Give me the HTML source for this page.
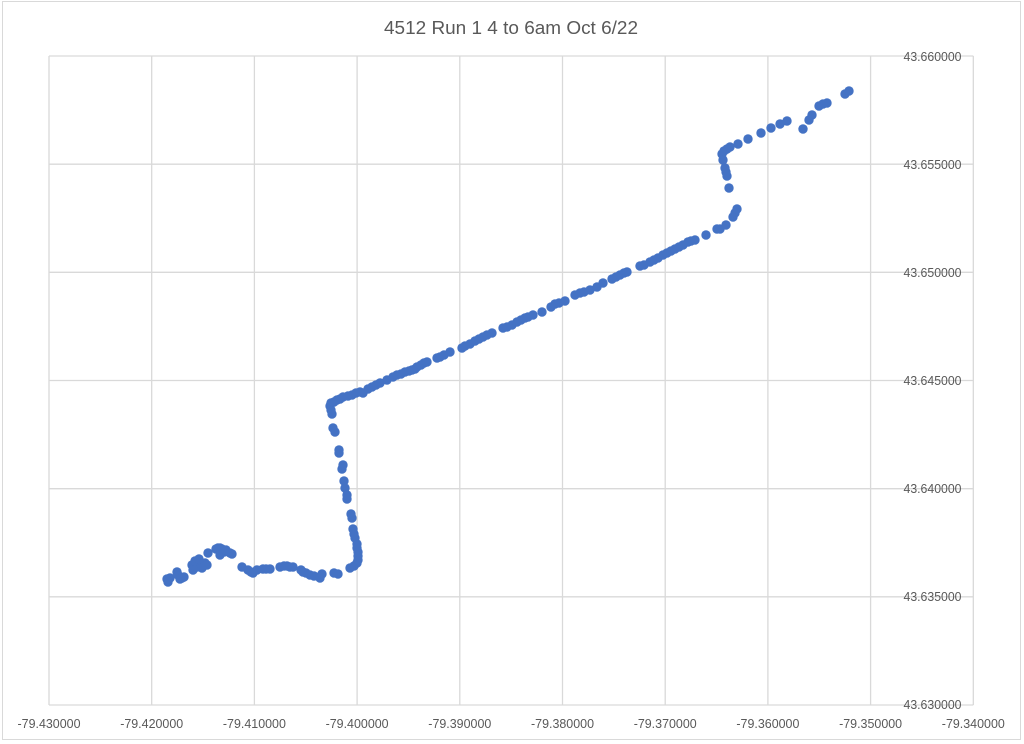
<!DOCTYPE html>
<html><head><meta charset="utf-8"><style>
html,body{margin:0;padding:0;background:#fff;}
svg{display:block;}
text{font-family:"Liberation Sans",sans-serif;fill:#595959;}
</style></head><body>
<svg width="1024" height="744" viewBox="0 0 1024 744" xmlns="http://www.w3.org/2000/svg">
<rect x="0" y="0" width="1024" height="744" fill="#fff"/>
<rect x="2.5" y="1.5" width="1018" height="738" fill="none" stroke="#d9d9d9" stroke-width="1"/>
<text x="511" y="34" font-size="18.5" text-anchor="middle" textLength="254" lengthAdjust="spacingAndGlyphs">4512 Run 1 4 to 6am Oct 6/22</text>
<g stroke="#d9d9d9" stroke-width="1.3" fill="none">
<line x1="49" y1="56" x2="49" y2="705"/>
<line x1="151.7" y1="56" x2="151.7" y2="705"/>
<line x1="254.4" y1="56" x2="254.4" y2="705"/>
<line x1="357.1" y1="56" x2="357.1" y2="705"/>
<line x1="459.8" y1="56" x2="459.8" y2="705"/>
<line x1="562.5" y1="56" x2="562.5" y2="705"/>
<line x1="665.2" y1="56" x2="665.2" y2="705"/>
<line x1="767.9" y1="56" x2="767.9" y2="705"/>
<line x1="870.6" y1="56" x2="870.6" y2="705"/>
<line x1="973.3" y1="56" x2="973.3" y2="705"/>
<line x1="49" y1="56" x2="973.3" y2="56"/>
<line x1="49" y1="164.2" x2="973.3" y2="164.2"/>
<line x1="49" y1="272.3" x2="973.3" y2="272.3"/>
<line x1="49" y1="380.5" x2="973.3" y2="380.5"/>
<line x1="49" y1="488.7" x2="973.3" y2="488.7"/>
<line x1="49" y1="596.8" x2="973.3" y2="596.8"/>
<line x1="49" y1="705" x2="973.3" y2="705"/>
</g>
<g font-size="13" text-anchor="middle">
<text x="49" y="728" textLength="63" lengthAdjust="spacingAndGlyphs">-79.430000</text>
<text x="151.7" y="728" textLength="63" lengthAdjust="spacingAndGlyphs">-79.420000</text>
<text x="254.4" y="728" textLength="63" lengthAdjust="spacingAndGlyphs">-79.410000</text>
<text x="357.1" y="728" textLength="63" lengthAdjust="spacingAndGlyphs">-79.400000</text>
<text x="459.8" y="728" textLength="63" lengthAdjust="spacingAndGlyphs">-79.390000</text>
<text x="562.5" y="728" textLength="63" lengthAdjust="spacingAndGlyphs">-79.380000</text>
<text x="665.2" y="728" textLength="63" lengthAdjust="spacingAndGlyphs">-79.370000</text>
<text x="767.9" y="728" textLength="63" lengthAdjust="spacingAndGlyphs">-79.360000</text>
<text x="870.6" y="728" textLength="63" lengthAdjust="spacingAndGlyphs">-79.350000</text>
<text x="973.3" y="728" textLength="63" lengthAdjust="spacingAndGlyphs">-79.340000</text>
<text x="932.5" y="61" textLength="58" lengthAdjust="spacingAndGlyphs">43.660000</text>
<text x="932.5" y="169" textLength="58" lengthAdjust="spacingAndGlyphs">43.655000</text>
<text x="932.5" y="277" textLength="58" lengthAdjust="spacingAndGlyphs">43.650000</text>
<text x="932.5" y="385" textLength="58" lengthAdjust="spacingAndGlyphs">43.645000</text>
<text x="932.5" y="493" textLength="58" lengthAdjust="spacingAndGlyphs">43.640000</text>
<text x="932.5" y="601" textLength="58" lengthAdjust="spacingAndGlyphs">43.635000</text>
<text x="932.5" y="709" textLength="58" lengthAdjust="spacingAndGlyphs">43.630000</text>
</g>
<g fill="#4472c4">
<!-- left cluster -->
<circle cx="168" cy="582" r="4.7"/><circle cx="170" cy="578" r="4.7"/><circle cx="167" cy="579" r="4.7"/>
<circle cx="177" cy="572" r="4.7"/><circle cx="178" cy="575" r="4.7"/><circle cx="182" cy="578" r="4.7"/><circle cx="184" cy="577" r="4.7"/><circle cx="180" cy="579" r="4.7"/>
<circle cx="192" cy="565" r="4.7"/><circle cx="193" cy="570" r="4.7"/><circle cx="195" cy="566" r="4.7"/><circle cx="197" cy="567" r="4.7"/><circle cx="195" cy="561" r="4.7"/>
<circle cx="200" cy="562" r="4.7"/><circle cx="202" cy="568" r="4.7"/><circle cx="205" cy="563" r="4.7"/><circle cx="207" cy="565" r="4.7"/><circle cx="199" cy="559" r="4.7"/>
<circle cx="208" cy="553" r="4.7"/><circle cx="216" cy="549" r="4.7"/><circle cx="218" cy="548" r="4.7"/><circle cx="220" cy="548" r="4.7"/>
<circle cx="222" cy="549" r="4.7"/><circle cx="220" cy="555" r="4.7"/><circle cx="224" cy="552" r="4.7"/><circle cx="226" cy="550" r="4.7"/>
<circle cx="230" cy="553" r="4.7"/><circle cx="232" cy="554" r="4.7"/>
<circle cx="242" cy="567" r="4.7"/><circle cx="248" cy="570" r="4.7"/><circle cx="251" cy="572" r="4.7"/><circle cx="253" cy="573" r="4.7"/>
<circle cx="257" cy="570" r="4.7"/><circle cx="263" cy="569" r="4.7"/><circle cx="266" cy="569" r="4.7"/><circle cx="270" cy="569" r="4.7"/>
<circle cx="280" cy="567" r="4.7"/><circle cx="284" cy="566" r="4.7"/><circle cx="287" cy="566" r="4.7"/><circle cx="290" cy="567" r="4.7"/><circle cx="293" cy="567" r="4.7"/>
<circle cx="301" cy="570" r="4.7"/><circle cx="303" cy="572" r="4.7"/><circle cx="306" cy="573" r="4.7"/><circle cx="310" cy="575" r="4.7"/>
<circle cx="314" cy="576" r="4.7"/><circle cx="320" cy="578" r="4.7"/><circle cx="322" cy="574" r="4.7"/>
<circle cx="334" cy="573" r="4.7"/><circle cx="338" cy="574" r="4.7"/>
<circle cx="350" cy="568" r="4.7"/><circle cx="354" cy="566" r="4.7"/><circle cx="357" cy="563" r="4.7"/><circle cx="358" cy="560" r="4.7"/>
<circle cx="358" cy="556" r="4.7"/><circle cx="358" cy="552" r="4.7"/><circle cx="357" cy="548" r="4.7"/><circle cx="357" cy="544" r="4.7"/>
<circle cx="355" cy="538" r="4.7"/><circle cx="354" cy="534" r="4.7"/><circle cx="353" cy="529" r="4.7"/><circle cx="352" cy="518" r="4.7"/>
<circle cx="351" cy="514" r="4.7"/><circle cx="347" cy="499" r="4.7"/><circle cx="347" cy="495" r="4.7"/><circle cx="345" cy="488" r="4.7"/>
<circle cx="344" cy="481" r="4.7"/><circle cx="342" cy="469" r="4.7"/><circle cx="343" cy="465" r="4.7"/><circle cx="339" cy="453" r="4.7"/>
<circle cx="339" cy="450" r="4.7"/><circle cx="335" cy="432" r="4.7"/><circle cx="333" cy="428" r="4.7"/><circle cx="332" cy="414" r="4.7"/>
<circle cx="331" cy="410" r="4.7"/><circle cx="330" cy="406" r="4.7"/>
<!-- diagonal -->
<circle cx="331" cy="403" r="4.7"/><circle cx="334" cy="402" r="4.7"/><circle cx="337" cy="400" r="4.7"/><circle cx="340" cy="399" r="4.7"/>
<circle cx="343" cy="397" r="4.7"/><circle cx="348" cy="396" r="4.7"/><circle cx="352" cy="395" r="4.7"/><circle cx="356" cy="393" r="4.7"/>
<circle cx="360" cy="392" r="4.7"/><circle cx="363" cy="393" r="4.7"/><circle cx="368" cy="389" r="4.7"/><circle cx="372" cy="387" r="4.7"/>
<circle cx="376" cy="385" r="4.7"/><circle cx="380" cy="383" r="4.7"/><circle cx="387" cy="380" r="4.7"/><circle cx="393" cy="377" r="4.7"/>
<circle cx="397" cy="375" r="4.7"/><circle cx="401" cy="374" r="4.7"/><circle cx="405" cy="372" r="4.7"/><circle cx="409" cy="371" r="4.7"/>
<circle cx="412" cy="370" r="4.7"/><circle cx="415" cy="369" r="4.7"/><circle cx="417" cy="367" r="4.7"/><circle cx="421" cy="365" r="4.7"/>
<circle cx="424" cy="363" r="4.7"/><circle cx="427" cy="362" r="4.7"/><circle cx="437" cy="358" r="4.7"/><circle cx="440" cy="357" r="4.7"/>
<circle cx="444" cy="355" r="4.7"/><circle cx="450" cy="352" r="4.7"/><circle cx="462" cy="348" r="4.7"/><circle cx="465" cy="346" r="4.7"/>
<circle cx="470" cy="344" r="4.7"/><circle cx="475" cy="341" r="4.7"/><circle cx="479" cy="339" r="4.7"/><circle cx="483" cy="337" r="4.7"/>
<circle cx="487" cy="335" r="4.7"/><circle cx="492" cy="333" r="4.7"/><circle cx="503" cy="328" r="4.7"/><circle cx="507" cy="327" r="4.7"/>
<circle cx="512" cy="325" r="4.7"/><circle cx="517" cy="322" r="4.7"/><circle cx="521" cy="320" r="4.7"/><circle cx="525" cy="318" r="4.7"/>
<circle cx="528" cy="317" r="4.7"/><circle cx="533" cy="315" r="4.7"/><circle cx="542" cy="312" r="4.7"/><circle cx="551" cy="307" r="4.7"/>
<circle cx="555" cy="304" r="4.7"/><circle cx="559" cy="303" r="4.7"/><circle cx="565" cy="301" r="4.7"/><circle cx="575" cy="295" r="4.7"/>
<circle cx="580" cy="293" r="4.7"/><circle cx="584" cy="292" r="4.7"/><circle cx="590" cy="290" r="4.7"/><circle cx="597" cy="287" r="4.7"/>
<circle cx="603" cy="283" r="4.7"/><circle cx="612" cy="279" r="4.7"/><circle cx="616" cy="277" r="4.7"/><circle cx="620" cy="275" r="4.7"/>
<circle cx="624" cy="273" r="4.7"/><circle cx="627" cy="272" r="4.7"/><circle cx="640" cy="266" r="4.7"/><circle cx="644" cy="265" r="4.7"/>
<circle cx="650" cy="262" r="4.7"/><circle cx="654" cy="260" r="4.7"/><circle cx="658" cy="258" r="4.7"/><circle cx="663" cy="255" r="4.7"/>
<circle cx="667" cy="253" r="4.7"/><circle cx="671" cy="251" r="4.7"/><circle cx="675" cy="249" r="4.7"/><circle cx="679" cy="247" r="4.7"/>
<circle cx="683" cy="245" r="4.7"/><circle cx="688" cy="242" r="4.7"/><circle cx="691" cy="241" r="4.7"/><circle cx="695" cy="240" r="4.7"/>
<circle cx="706" cy="235" r="4.7"/><circle cx="717" cy="229" r="4.7"/><circle cx="720" cy="229" r="4.7"/><circle cx="726" cy="225" r="4.7"/>
<!-- upper right -->
<circle cx="733" cy="217" r="4.7"/><circle cx="735" cy="213" r="4.7"/><circle cx="737" cy="209" r="4.7"/>
<circle cx="729" cy="188" r="4.7"/><circle cx="727" cy="176" r="4.7"/><circle cx="726" cy="172" r="4.7"/><circle cx="725" cy="168" r="4.7"/>
<circle cx="723" cy="160" r="4.7"/><circle cx="722" cy="154" r="4.7"/><circle cx="724" cy="151" r="4.7"/><circle cx="727" cy="149" r="4.7"/>
<circle cx="730" cy="147" r="4.7"/><circle cx="738" cy="144" r="4.7"/><circle cx="748" cy="139" r="4.7"/><circle cx="761" cy="133" r="4.7"/>
<circle cx="771" cy="128" r="4.7"/><circle cx="780" cy="124" r="4.7"/><circle cx="787" cy="121" r="4.7"/>
<circle cx="803" cy="129" r="4.7"/><circle cx="809" cy="120" r="4.7"/><circle cx="812" cy="115" r="4.7"/><circle cx="819" cy="106" r="4.7"/>
<circle cx="823" cy="104" r="4.7"/><circle cx="827" cy="103" r="4.7"/><circle cx="845" cy="94" r="4.7"/><circle cx="849" cy="91" r="4.7"/>
</g>
</svg>
</body></html>
